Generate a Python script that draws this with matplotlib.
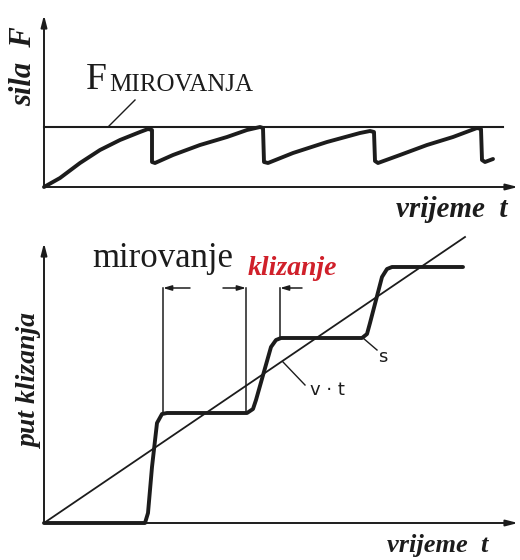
# stick-slip: sila i put klizanja kroz vrijeme
import matplotlib
matplotlib.use("Agg")
import matplotlib.pyplot as plt

# gornji dijagram: sila F (t i F u proizvoljnim jedinicama)
t_sila = [0, 1.6, 3.6, 5.6, 7.6, 9.6, 10.4, 10.8, 10.8, 11.1, 12.9, 15.6, 18.3, 20.3, 21.6, 21.9,
          22.0, 22.4, 24.9, 28.3, 31.6, 32.6, 33.0, 33.1, 33.4, 35.6, 38.3, 40.9, 43.3, 43.7,
          43.8, 44.1, 44.9]
sila = [0, 0.9, 2.4, 3.7, 4.7, 5.5, 5.8, 5.7, 2.5, 2.4, 3.2, 4.2, 5.0, 5.7, 6.0, 5.9,
        2.5, 2.4, 3.4, 4.5, 5.4, 5.6, 5.5, 2.6, 2.4, 3.2, 4.2, 5.0, 5.9, 5.8,
        2.7, 2.5, 2.8]
F_mirovanja = 6.0
t_F_kraj = 45.9

# donji dijagram: put klizanja s i v*t
t_put = [0, 10.1, 10.4, 10.8, 11.3, 11.8, 12.3, 20.3, 20.9, 21.2, 22.7, 23.2, 23.7,
         31.8, 32.3, 32.6, 33.8, 34.3, 34.8, 41.9]
put = [0, 0, 1.0, 5.6, 10.0, 10.9, 11.0, 11.0, 11.4, 12.3, 17.6, 18.3, 18.5,
       18.5, 18.9, 20.0, 24.6, 25.4, 25.6, 25.6]
t_vt = [0, 42.1]
vt = [0, 28.6]

# granice mirovanja / klizanja (t pocetka, t kraja, s na dnu)
granice_t = [11.9, 20.2, 23.6]
granice_s = [11.0, 11.0, 18.5]
strelice_od = [14.6, 17.9, 25.8]
s_strelice = 23.5

crna = "#1c1c1c"
crvena = "#d0202a"
serif = ["Liberation Serif", "DejaVu Serif"]

fig = plt.figure(figsize=(5.2, 5.6), dpi=100)
ax1 = fig.add_axes([44 / 520, 373 / 560, 474 / 520, 172 / 560])
ax2 = fig.add_axes([44 / 520, 37 / 560, 474 / 520, 280 / 560])

for ax, ytop in [(ax1, 17.2), (ax2, 28.0)]:
    ax.set_xlim(0, 47.4)
    ax.set_ylim(0, ytop)
    ax.axis("off")
    ax.annotate("", xy=(0, ytop), xytext=(0, 0), annotation_clip=False,
                arrowprops=dict(arrowstyle="-|>,head_length=0.7,head_width=0.18",
                                lw=1.4, color=crna, shrinkA=0, shrinkB=0))
    ax.annotate("", xy=(47.4, 0), xytext=(0, 0), annotation_clip=False,
                arrowprops=dict(arrowstyle="-|>,head_length=0.7,head_width=0.18",
                                lw=1.4, color=crna, shrinkA=0, shrinkB=0))

# gornji
ax1.plot([0, t_F_kraj], [F_mirovanja, F_mirovanja], color=crna, lw=1.5, clip_on=False)
ax1.plot(t_sila, sila, color=crna, lw=2.8, solid_joinstyle="round", solid_capstyle="round",
         clip_on=False)
ax1.plot([6.4, 9.1], [6.0, 8.7], color=crna, lw=1.0)
ax1.text(4.2, 9.8, "F", family=serif, fontsize=27, color=crna, ha="left", va="baseline")
ax1.text(6.5, 9.6, "MIROVANJA", family=serif, fontsize=18, color=crna, ha="left",
         va="baseline")
ax1.text(-2.0, 12.1, "sila  F", family=serif, fontsize=22, weight="bold", style="italic",
         rotation=90, ha="center", va="center", color=crna)
ax1.text(46.4, -3.0, "vrijeme  t", family=serif, fontsize=21, weight="bold", style="italic",
         ha="right", va="baseline", color=crna)

# donji
ax2.plot(t_vt, vt, color=crna, lw=1.3, clip_on=False)
ax2.plot(t_put, put, color=crna, lw=2.8, solid_joinstyle="round", solid_capstyle="round",
         clip_on=False)
for tg, sg, ts in zip(granice_t, granice_s, strelice_od):
    ax2.plot([tg, tg], [sg, s_strelice], color=crna, lw=1.1)
    ax2.annotate("", xy=(tg, s_strelice), xytext=(ts, s_strelice),
                 arrowprops=dict(arrowstyle="-|>,head_length=0.5,head_width=0.15",
                                 lw=1.1, color=crna, shrinkA=0, shrinkB=0))
ax2.plot([31.9, 33.3], [18.5, 17.3], color=crna, lw=1.0)
ax2.text(33.9, 16.6, "s", fontsize=13, color=crna, ha="center", va="center")
ax2.plot([23.9, 26.1], [16.1, 13.8], color=crna, lw=1.0)
ax2.text(28.3, 13.3, "v \u00b7 t", fontsize=13, color=crna, ha="center", va="center")

ax2.text(4.8, 25.6, "mirovanje", family=serif, fontsize=25, color=crna, ha="left",
         va="baseline")
ax2.text(20.4, 24.8, "klizanje", family=serif, fontsize=20, weight="bold", style="italic",
         color=crvena, ha="left", va="baseline")
ax2.text(-1.4, 14.2, "put klizanja", family=serif, fontsize=20, weight="bold",
         style="italic", rotation=90, ha="center", va="center", color=crna)
ax2.text(44.4, -2.9, "vrijeme  t", family=serif, fontsize=19, weight="bold", style="italic",
         ha="right", va="baseline", color=crna)

fig.savefig("out.png", dpi=100, facecolor="white")
